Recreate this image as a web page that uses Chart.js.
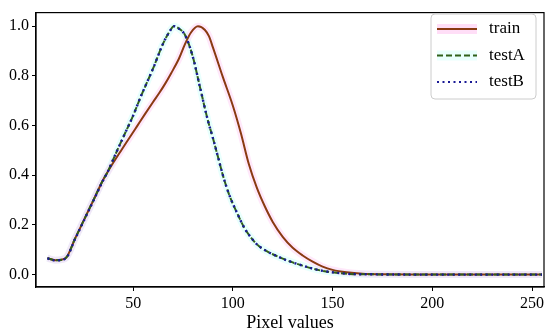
<!DOCTYPE html>
<html>
<head>
<meta charset="utf-8">
<script src="https://cdn.jsdelivr.net/npm/chart.js@4/dist/chart.umd.min.js"></script>
<style>
  html, body { margin: 0; padding: 0; background: #fff; }
  #wrap { width: 550px; height: 336px; }
</style>
</head>
<body>
<div id="wrap"><canvas id="hist"></canvas></div>
<script>
// ── Data ──
const TRAIN_X = [7, 11, 16, 21, 25, 30, 35, 37, 40, 44, 48, 52, 56, 60, 63, 66, 69, 73, 76, 79, 82.5, 86, 88, 90, 95, 100, 104, 108, 112, 116, 120, 125, 130, 135, 140, 145, 150, 157, 165, 175, 190, 210, 230, 255];
const TRAIN_Y = [0.066, 0.058, 0.065, 0.147, 0.214, 0.298, 0.382, 0.41, 0.45, 0.50, 0.549, 0.598, 0.647, 0.695, 0.73, 0.768, 0.81, 0.87, 0.928, 0.975, 1.0, 0.985, 0.96, 0.915, 0.795, 0.68, 0.57, 0.445, 0.35, 0.275, 0.212, 0.152, 0.108, 0.077, 0.052, 0.032, 0.019, 0.009, 0.003, 0.001, 0, 0, 0, 0];

const TEST_X = [7, 11, 16, 21, 25, 30, 35, 37, 42, 46, 50, 54, 60, 65, 68, 70.5, 73, 76, 80, 83.5, 87.5, 90, 93, 95, 98, 102, 106, 110, 113, 117, 120, 125, 130, 135, 140, 145, 150, 158, 170, 190, 210, 230, 255];
const TESTA_Y = [0.066, 0.058, 0.065, 0.147, 0.214, 0.298, 0.382, 0.41, 0.50, 0.57, 0.64, 0.72, 0.83, 0.93, 0.975, 1.0, 0.99, 0.965, 0.875, 0.755, 0.62, 0.55, 0.46, 0.40, 0.325, 0.25, 0.185, 0.14, 0.115, 0.094, 0.082, 0.064, 0.049, 0.036, 0.024, 0.015, 0.009, 0.003, 0.001, 0, 0, 0, 0];
const TESTB_Y = [0.065, 0.057, 0.064, 0.145, 0.212, 0.296, 0.38, 0.41, 0.50, 0.57, 0.64, 0.72, 0.83, 0.93, 0.975, 1.0, 0.99, 0.965, 0.875, 0.755, 0.62, 0.55, 0.46, 0.40, 0.325, 0.25, 0.185, 0.14, 0.115, 0.094, 0.082, 0.064, 0.049, 0.036, 0.024, 0.015, 0.009, 0.003, 0.001, 0, 0, 0, 0];

const X_TICKS = [50, 100, 150, 200, 250];
const Y_TICKS = [0, 0.2, 0.4, 0.6, 0.8, 1.0];

const SERIF = '"Liberation Serif", "DejaVu Serif", serif';
const TRAIN_COLOR = '#8a3a12';
const TESTA_COLOR = '#30601a';
const TESTB_COLOR = '#1a1a96';

const pts = (xs, ys) => xs.map((x, i) => ({ x, y: ys[i] }));

const LINE = {
  pointRadius: 0,
  fill: false,
  cubicInterpolationMode: 'monotone',
};

// ── Frame round the plot + legend box inside ──
const framePlugin = {
  id: 'frame',
  afterDraw(chart) {
    const { ctx, chartArea: a } = chart;
    ctx.save();
    ctx.strokeStyle = '#000';
    ctx.lineWidth = 1.2;
    ctx.strokeRect(a.left, a.top, a.right - a.left, a.bottom - a.top);

    // legend
    const bx = 431, by = 14, bw = 105, bh = 85, r = 4;
    ctx.beginPath();
    ctx.roundRect(bx, by, bw, bh, r);
    ctx.fillStyle = 'rgba(255,255,255,0.85)';
    ctx.fill();
    ctx.strokeStyle = '#cccccc';
    ctx.lineWidth = 1;
    ctx.stroke();

    const rows = [
      { label: 'train', color: TRAIN_COLOR, dash: [], band: 'rgba(255,190,240,0.5)' },
      { label: 'testA', color: TESTA_COLOR, dash: [6, 3], band: 'rgba(200,255,250,0.4)' },
      { label: 'testB', color: TESTB_COLOR, dash: [2, 3.5], band: null },
    ];
    rows.forEach((row, i) => {
      const y = 29 + i * 26.5;
      if (row.band) {
        ctx.fillStyle = row.band;
        ctx.fillRect(437, y - 5, 40, 10);
      }
      ctx.beginPath();
      ctx.setLineDash(row.dash);
      ctx.strokeStyle = row.color;
      ctx.lineWidth = 2;
      ctx.moveTo(437, y);
      ctx.lineTo(477, y);
      ctx.stroke();
      ctx.setLineDash([]);
      ctx.fillStyle = '#000';
      ctx.font = '17px ' + SERIF;
      ctx.textBaseline = 'middle';
      ctx.textAlign = 'left';
      ctx.fillText(row.label, 489, y);
    });
    ctx.restore();
  },
};

new Chart(document.getElementById('hist'), {
  type: 'line',
  data: {
    datasets: [
      {
        label: 'testB',
        data: pts(TEST_X, TESTB_Y),
        borderColor: TESTB_COLOR,
        borderWidth: 2.4,
        borderDash: [2, 3.5],
        order: 0,
        ...LINE,
      },
      {
        label: 'testA',
        data: pts(TEST_X, TESTA_Y),
        borderColor: TESTA_COLOR,
        borderWidth: 2,
        borderDash: [6, 3],
        order: 1,
        ...LINE,
      },
      {
        label: 'train',
        data: pts(TRAIN_X, TRAIN_Y),
        borderColor: TRAIN_COLOR,
        borderWidth: 2,
        order: 2,
        ...LINE,
      },
      {
        label: 'train band',
        data: pts(TRAIN_X, TRAIN_Y),
        borderColor: 'rgba(255,190,240,0.35)',
        borderWidth: 7,
        order: 3,
        ...LINE,
      },
      {
        label: 'test band',
        data: pts(TEST_X, TESTA_Y),
        borderColor: 'rgba(190,255,250,0.35)',
        borderWidth: 7,
        order: 4,
        ...LINE,
      },
    ],
  },
  options: {
    responsive: true,
    maintainAspectRatio: false,
    animation: false,
    layout: { padding: { top: 7, right: 6, left: 0, bottom: 0 } },
    plugins: {
      legend: { display: false },
      tooltip: { enabled: false },
    },
    scales: {
      x: {
        type: 'linear',
        min: 1.3,
        max: 256,
        afterBuildTicks: s => { s.ticks = X_TICKS.map(v => ({ value: v })); },
        afterFit: s => { s.height = 49; },
        grid: { display: true, drawOnChartArea: false, drawTicks: true, tickLength: 4, color: '#000' },
        border: { display: true, color: '#000', width: 1.2 },
        ticks: { color: '#000', font: { family: SERIF, size: 16 }, padding: 3, maxRotation: 0 },
        title: { display: true, text: 'Pixel values', color: '#000', font: { family: SERIF, size: 18 }, padding: { top: 0, bottom: 2 } },
      },
      y: {
        type: 'linear',
        min: -0.05,
        max: 1.055,
        afterBuildTicks: s => { s.ticks = Y_TICKS.map(v => ({ value: v })); },
        afterFit: s => { s.width = 36; },
        grid: { display: true, drawOnChartArea: false, drawTicks: true, tickLength: 4, color: '#000' },
        border: { display: true, color: '#000', width: 1.2 },
        ticks: { color: '#000', font: { family: SERIF, size: 16 }, padding: 3, callback: v => v.toFixed(1) },
      },
    },
  },
  plugins: [framePlugin],
});
</script>
</body>
</html>
